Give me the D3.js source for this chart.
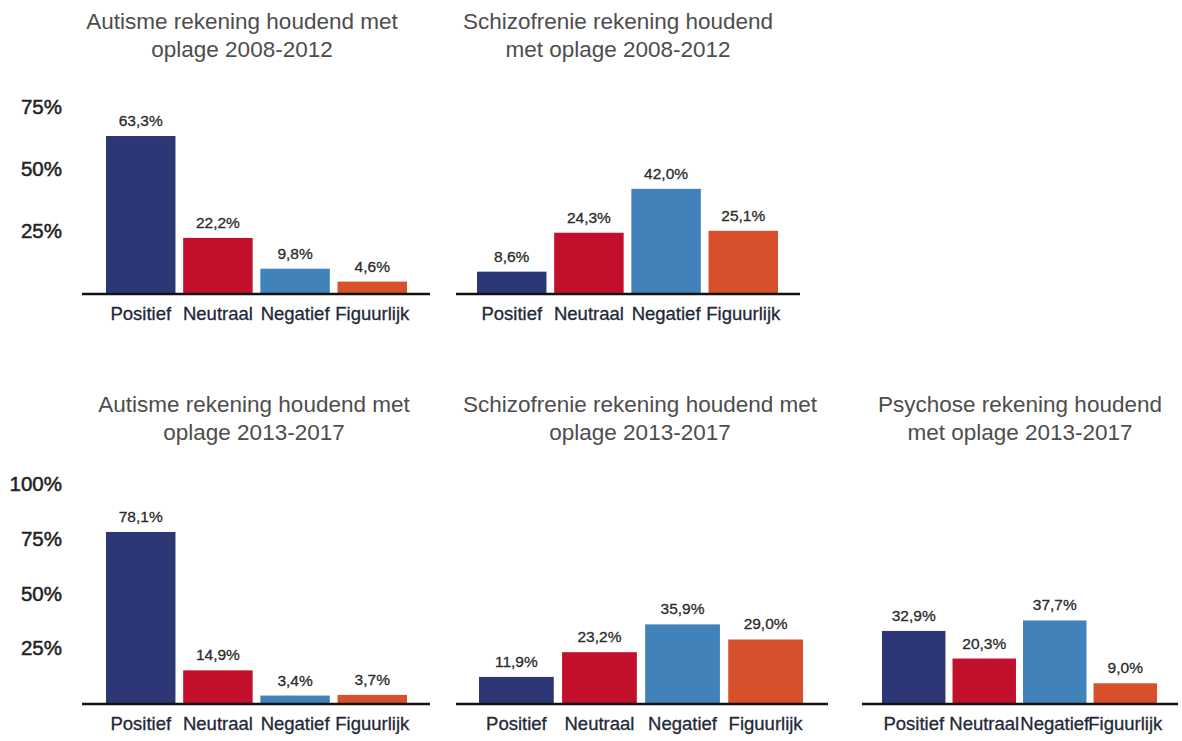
<!DOCTYPE html>
<html>
<head>
<meta charset="utf-8">
<script src="https://cdn.jsdelivr.net/npm/d3@7"></script>
<style>
    body { margin: 0; background: #fff; }
    svg { display: block; font-family: "Liberation Sans", Arial, Helvetica, sans-serif; }
</style>
</head>
<body>
<svg id="chart" width="1182" height="741"></svg>
<script>
// categories shared by every panel
var categories = ['Positief', 'Neutraal', 'Negatief', 'Figuurlijk'];
var barColors = ['#2d3775', '#c20f2c', '#4182ba', '#d8502b'];

// values in percent, one array per panel
var autisme0812 = [63.3, 22.2, 9.8, 4.6];
var schizo0812 = [8.6, 24.3, 42.0, 25.1];
var autisme1317 = [78.1, 14.9, 3.4, 3.7];
var schizo1317 = [11.9, 23.2, 35.9, 29.0];
var psychose1317 = [32.9, 20.3, 37.7, 9.0];

var titles = [
    ['Autisme rekening houdend met', 'oplage 2008-2012'],
    ['Schizofrenie rekening houdend', 'met oplage 2008-2012'],
    ['Autisme rekening houdend met', 'oplage 2013-2017'],
    ['Schizofrenie rekening houdend met', 'oplage 2013-2017'],
    ['Psychose rekening houdend', 'met oplage 2013-2017']
];

var ticksTop = [25, 50, 75];
var ticksBottom = [25, 50, 75, 100];

// layout of each panel (pixels)
var panels = [
    {values: autisme0812, title: titles[0], base: 293, top: 107, yMax: 75, ticks: ticksTop,
        axis: [82, 430], bars: [106, 407], titleX: 242, titleY: 29},
    {values: schizo0812, title: titles[1], base: 293, top: 107, yMax: 75, ticks: null,
        axis: [456, 800], bars: [477, 778], titleX: 618, titleY: 29},
    {values: autisme1317, title: titles[2], base: 703, top: 484, yMax: 100, ticks: ticksBottom,
        axis: [82, 430], bars: [106, 407], titleX: 254, titleY: 412},
    {values: schizo1317, title: titles[3], base: 703, top: 484, yMax: 100, ticks: null,
        axis: [456, 828], bars: [479, 803], titleX: 640, titleY: 412},
    {values: psychose1317, title: titles[4], base: 703, top: 484, yMax: 100, ticks: null,
        axis: [862, 1178], bars: [882, 1157], titleX: 1020, titleY: 412}
];

var svg = d3.select('#chart');

function fmt(v) {
    return d3.format('.1f')(v).replace('.', ',') + '%';
}

panels.forEach(function(p) {
    var g = svg.append('g');

    var x = d3.scaleBand()
        .domain(categories)
        .range(p.bars)
        .paddingInner(0.1)
        .paddingOuter(0);

    var y = d3.scaleLinear()
        .domain([0, p.yMax])
        .range([p.base, p.top]);

    var color = d3.scaleOrdinal()
        .domain(categories)
        .range(barColors);

    // title, two lines
    g.append('text')
        .attr('x', p.titleX)
        .attr('y', p.titleY)
        .attr('text-anchor', 'middle')
        .style('font-size', '22.5px')
        .style('fill', '#4d4d4d')
        .selectAll('tspan')
        .data(p.title)
        .enter()
        .append('tspan')
        .attr('x', p.titleX)
        .attr('dy', function(d, i) { return i === 0 ? 0 : 28; })
        .text(function(d) { return d; });

    // y tick labels only (no lines)
    if (p.ticks) {
        var yAxis = g.append('g')
            .attr('transform', 'translate(64,0)')
            .call(d3.axisLeft(y).tickValues(p.ticks).tickSize(0).tickPadding(2)
                .tickFormat(function(d) { return d + '%'; }));
        yAxis.select('.domain').remove();
        yAxis.selectAll('text')
            .style('font-family', '"Liberation Sans", Arial, sans-serif')
            .style('font-size', '20.5px')
            .style('fill', '#222')
            .style('stroke', '#222')
            .style('stroke-width', 0.5);
    }

    var data = categories.map(function(c, i) { return {cat: c, v: p.values[i]}; });

    g.selectAll('rect')
        .data(data)
        .enter()
        .append('rect')
        .attr('x', function(d) { return x(d.cat); })
        .attr('width', x.bandwidth())
        .attr('y', function(d) { return y(d.v); })
        .attr('height', function(d) { return p.base - y(d.v); })
        .style('fill', function(d) { return color(d.cat); });

    g.selectAll('.val')
        .data(data)
        .enter()
        .append('text')
        .attr('class', 'val')
        .attr('x', function(d) { return x(d.cat) + x.bandwidth() / 2; })
        .attr('y', function(d) { return y(d.v) - 10; })
        .attr('text-anchor', 'middle')
        .style('font-size', '15.5px')
        .style('fill', '#2b2b2b')
        .style('stroke', '#2b2b2b')
        .style('stroke-width', 0.3);

    g.selectAll('.val').text(function(d) { return fmt(d.v); });

    // baseline
    g.append('line')
        .attr('x1', p.axis[0])
        .attr('x2', p.axis[1])
        .attr('y1', p.base + 1)
        .attr('y2', p.base + 1)
        .style('stroke', '#111')
        .style('stroke-width', 2.5);

    // category labels
    var xAxis = g.append('g')
        .attr('transform', 'translate(0,' + p.base + ')')
        .call(d3.axisBottom(x).tickSize(0).tickPadding(14));
    xAxis.select('.domain').remove();
    xAxis.selectAll('text')
        .style('font-family', '"Liberation Sans", Arial, sans-serif')
        .style('font-size', '18.5px')
        .style('fill', '#232838')
        .style('stroke', '#232838')
        .style('stroke-width', 0.3);
});
</script>
</body>
</html>
